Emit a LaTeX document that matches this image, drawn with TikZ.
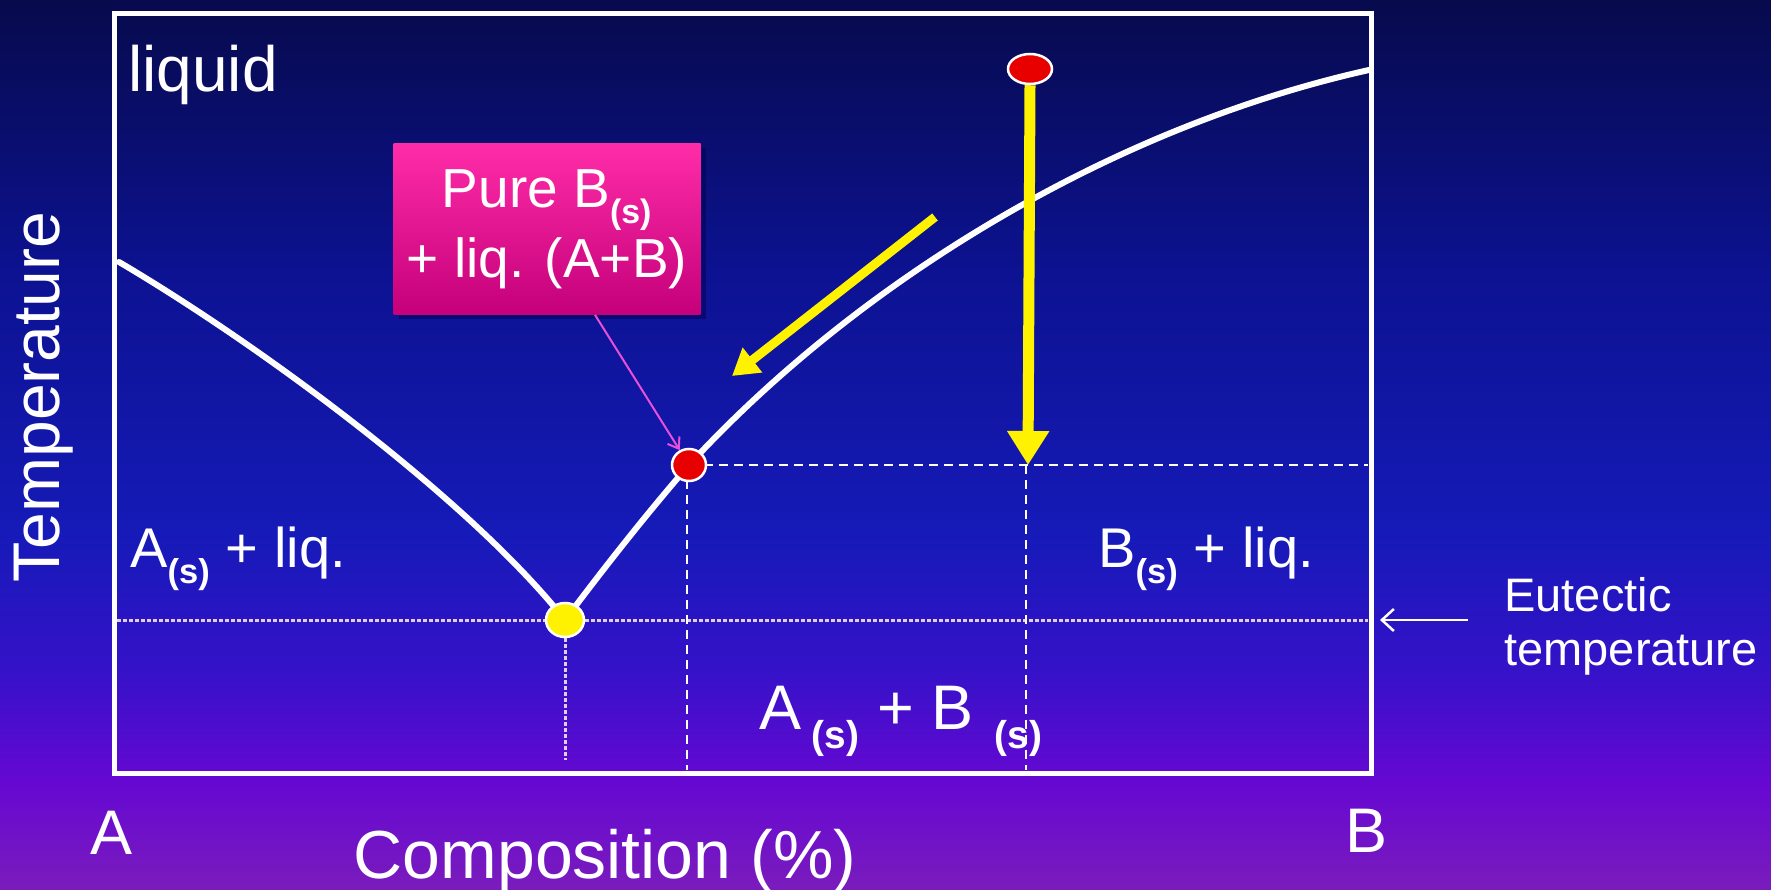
\documentclass[tikz,border=0pt]{standalone}
\usepackage{fontspec}
\setmainfont{Liberation Sans}
\usetikzlibrary{arrows.meta,shapes.geometric,shadows}

\definecolor{bgtop}{HTML}{070A4C}
\definecolor{bgmid}{HTML}{0C1290}
\definecolor{bgblue}{HTML}{161AB8}
\definecolor{bgviolet}{HTML}{3412C8}
\definecolor{bgpurple}{HTML}{6608D2}
\definecolor{bgbottom}{HTML}{7A1CBC}
\definecolor{notetop}{HTML}{FF2CA8}
\definecolor{notebot}{HTML}{C4007A}
\definecolor{calloutpink}{HTML}{E850D8}
\definecolor{dotred}{HTML}{E80000}

% only 25bp..75bp of a shading fills the path
\pgfdeclareverticalshading{slidebg}{100bp}{color(0bp)=(bgbottom); color(25bp)=(bgbottom); color(31bp)=(bgpurple); color(37.5bp)=(bgviolet); color(45bp)=(bgblue); color(60bp)=(bgmid); color(75bp)=(bgtop); color(100bp)=(bgtop)}

\tikzset{every picture/.style={line width=0.75pt}}
\tikzset{
    frame/.style={draw=white, line width=5pt},
    phaseline/.style={draw=white, line width=6pt, line cap=round},
    tieline/.style={draw=white, line width=2.5pt, dash pattern=on 9pt off 6pt},
    eutline/.style={draw=white!80!violet, line width=3pt, dash pattern=on 4pt off 2pt},
    dot/.style={ellipse, draw=white, line width=2.5pt, inner sep=0pt},
    fall/.style={draw=yellow, line width=11pt, -{Triangle[width=40pt,length=34pt]}},
    slide/.style={draw=yellow, line width=9pt, -{Triangle[width=30pt,length=26pt]}},
    callout/.style={draw=calloutpink, line width=2pt, -{Straight Barb[length=10pt,width=14pt]}},
    pointer/.style={draw=white, line width=2.5pt, -{Straight Barb[length=12pt,width=22pt]}},
    notebox/.style={rectangle, top color=notetop, bottom color=notebot, draw=none,
        minimum width=307pt, minimum height=171pt, align=center,
        font=\fontsize{55}{70}\selectfont,
        drop shadow={shadow xshift=5pt, shadow yshift=-5pt, opacity=0.45, fill=black!70!blue}},
    axislabel/.style={font=\fontsize{66}{79}\selectfont, inner sep=0pt},
    phaselabel/.style={font=\fontsize{56}{67}\selectfont, inner sep=0pt, anchor=base west}
}

\newcommand{\sol}{\textsubscript{\textbf{\scalebox{0.88}{(s)}}}}

\begin{document}
\begin{tikzpicture}[
            x=1pt,
            y=1pt,
            yscale=-1,
            xscale=1,
            every node/.style={text=white},
            line width=0.75pt
        ]
    \shade[shading=slidebg] (0,0) rectangle (1771,890);
    \useasboundingbox (0,0) rectangle (1771,890);

    % frame of the diagram
    \draw[frame] (114,14) rectangle (1371,773);

    % eutectic and tie lines
    \draw[eutline] (117,620) -- (1368,620);
    \draw[eutline] (565,620) -- (565,760);
    \draw[tieline] (689,465) -- (1368,465);
    \draw[tieline] (687,465) -- (687,770);
    \draw[tieline] (1026,465) -- (1026,770);

    % liquidus curves
    \draw[phaseline] (119,262) .. controls (260,345) and (470,500) .. (565,620);
    \draw[phaseline] (565,620) .. controls (610,560) and (650,510) .. (689,465) .. controls (850,290) and (1100,130) .. (1369,70);

    % points
    \node[dot, fill=yellow, minimum width=38pt, minimum height=34pt] (eutpt) at (565,620) {};
    \node[dot, fill=dotred, minimum width=34pt, minimum height=32pt] (liqpt) at (689,465) {};
    \node[dot, fill=dotred, minimum width=44pt, minimum height=30pt] (startpt) at (1030,69) {};

    % cooling arrows
    \coordinate (cool) at (1028,465);
    \draw[fall] (startpt.south) -- (cool);
    \coordinate (slidefrom) at (935,217);
    \coordinate (slideto) at (732,376);
    \draw[slide] (slidefrom) -- (slideto);

    % note
    \node[notebox] (note) at (547,229) {Pure B\sol\\+ liq. (A+B)};
    \draw[callout] ([xshift=48pt]note.south) -- (liqpt);

    % labels
    \node[font=\fontsize{64}{77}\selectfont, inner sep=0pt, anchor=base west] (liquid) at (128,92) {liquid};
    \node[phaselabel] (aliq) at (130,567) {A\sol{} + liq.};
    \node[phaselabel] (bliq) at (1098,567) {B\sol{} + liq.};
    \node[font=\fontsize{63}{76}\selectfont, inner sep=0pt, anchor=base west] (solids) at (759,729) {A\,\sol{} + B\,\,\sol};
    \node[axislabel, rotate=90] (temp) at (44,397) {Temperature};
    \node[font=\fontsize{68}{82}\selectfont, inner sep=0pt, anchor=base] (comp) at (605,878) {Composition (\%)};
    \node[font=\fontsize{63}{76}\selectfont, inner sep=0pt, anchor=base] (purea) at (112,854) {A};
    \node[font=\fontsize{63}{76}\selectfont, inner sep=0pt, anchor=base] (pureb) at (1366,852) {B};
    \node[font=\fontsize{47}{54}\selectfont, inner sep=0pt, anchor=west, align=left] (eutlabel) at (1504,626) {Eutectic\\temperature};

    \coordinate (eutfrom) at (1468,620);
    \coordinate (eutto) at (1380,620);
    \draw[pointer] (eutfrom) -- (eutto);
\end{tikzpicture}
\end{document}
